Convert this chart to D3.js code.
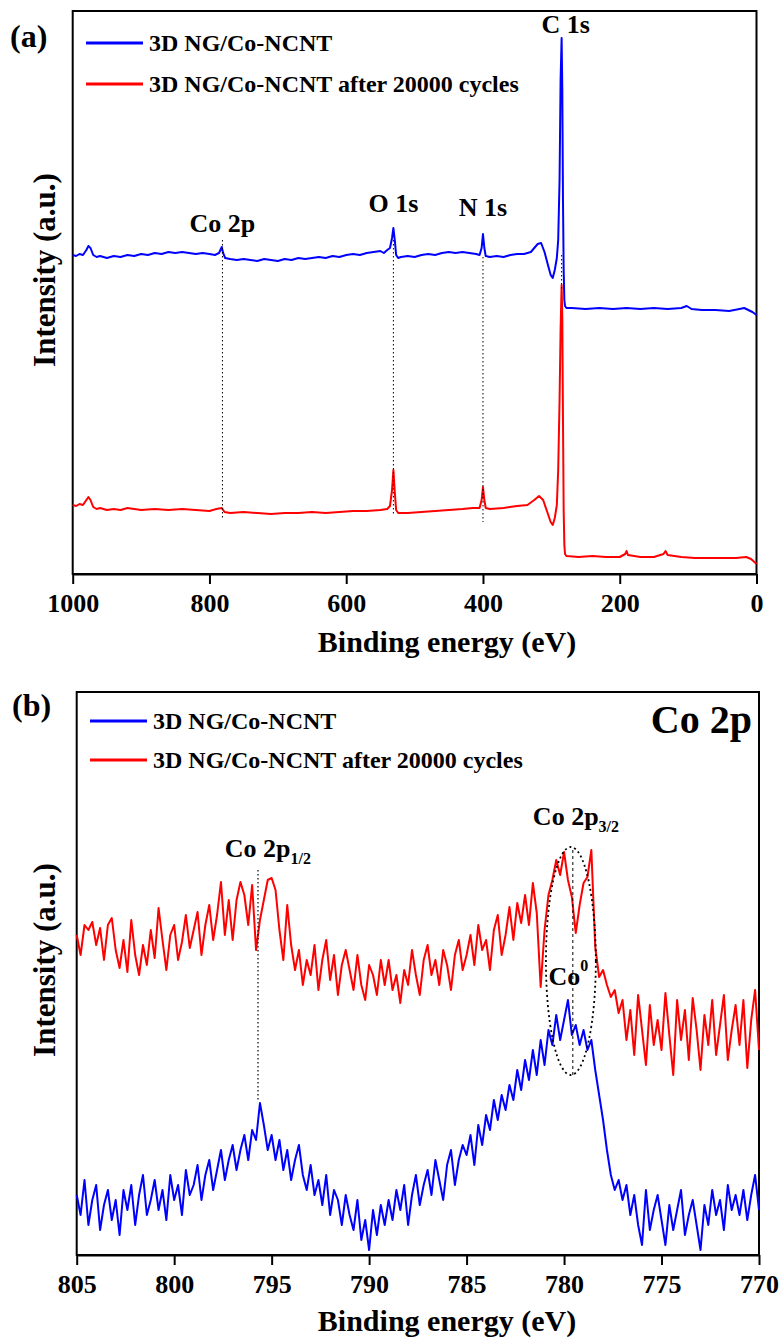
<!DOCTYPE html>
<html><head><meta charset="utf-8">
<script src="https://cdn.jsdelivr.net/npm/d3@7"></script>
<style>
body{margin:0;background:#fff}
svg{display:block}
text{font-family:"Liberation Serif","Times New Roman",serif;font-weight:bold;fill:#000}
</style>
</head><body>
<svg id="chart" width="783" height="1344"></svg>
<script>
// ---------------- DATA ----------------
const seriesNames = ["3D NG/Co-NCNT", "3D NG/Co-NCNT after 20000 cycles"];
const seriesColors = ["#0000ff", "#ff0000"];

// Panel (a): XPS survey, binding energy (eV) and intensity (a.u.)
const surveyEnergyBlue = [1000,995,990,985,980,977,974,970,965,960,950,940,930,920,910,900,890,880,870,860,850,840,830,820,810,800,792,786,782,780,777,770,760,750,740,730,720,710,700,690,680,670,660,650,640,630,620,610,600,590,580,570,560,550,545,540,536,533,531,529,527,524,520,510,500,490,480,470,460,450,440,430,420,410,405,402,400,398,396,390,380,370,360,350,340,330,325,320,315,310,305,301,298,295,292,290,288,286.5,285,284,283,282,281,280,278,270,250,230,210,190,170,150,130,110,102,95,80,60,40,25,18,12,6,0];
const surveyIntensityBlue = [345,344,346,345,350,354,352,345,343,344,342,344,343,345,344,346,345,347,346,348,347,348,347,346,347,346,345,347,353,347,342,341,340,341,340,339,341,340,339,341,340,342,341,342,343,342,344,343,345,346,345,347,348,349,347,350,352,362,372,360,345,342,343,344,343,345,346,345,347,348,347,348,347,346,345,352,366,352,344,343,344,343,345,346,346,348,352,356,357,348,335,325,322,330,342,360,420,520,562,510,400,330,300,294,292,292,291,292,291,292,291,292,291,292,294,291,290,290,289,291,292,290,288,285];

const surveyEnergyRed = [1000,995,990,985,980,977,974,970,965,960,950,940,930,920,910,900,880,860,840,820,800,790,782,778,770,750,730,710,690,670,650,630,610,590,570,550,540,536,533,531,529,527,524,510,490,470,450,430,415,405,402,400,398,396,390,370,350,335,325,318,312,306,301,298,295,292,290,288,286.5,285,284,283,282,281,280,278,260,240,220,200,192,190,188,170,150,136,133,130,110,90,70,50,30,15,8,3,0];
const surveyIntensityRed = [95,94,96,95,100,103,100,93,91,92,90,91,90,92,91,90,91,90,91,90,89,91,92,88,87,88,87,86,87,87,88,87,88,89,89,90,91,94,110,130,108,90,87,87,88,89,90,91,92,92,100,113,100,92,91,92,94,95,100,104,100,88,78,75,82,95,130,200,270,315,280,180,90,55,46,44,43,44,43,43,46,49,45,43,43,46,49,45,43,42,42,42,42,43,41,38,36];

const surveyTicks = [1000, 800, 600, 400, 200, 0];
const surveyPeakNames = ["Co 2p", "O 1s", "N 1s", "C 1s"];
const surveyPeakEnergies = [781, 531, 400, 285];

// Panel (b): Co 2p high-resolution, 805 -> 770 eV in 0.2 eV steps
const coStart = 805, coStep = 0.2, coCount = 176;
const coIntensityBlue = [
 60,40,75,30,55,70,25,50,65,35,
 55,20,65,45,70,30,60,80,40,55,
 75,45,65,35,80,55,70,40,85,60,
 70,90,55,80,95,65,85,105,75,95,
 110,85,105,120,95,125,115,152,130,105,
 120,95,115,85,105,75,95,110,80,65,
 90,60,75,50,80,40,65,55,30,60,
 40,25,55,15,35,5,45,20,50,30,
 55,35,65,45,70,30,60,80,50,70,
 85,60,95,75,55,90,105,70,95,110,
 100,120,90,130,110,140,125,155,135,160,
 145,170,155,185,165,195,175,205,180,215,
 190,225,210,240,215,235,255,220,230,210,
 225,205,215,185,160,135,105,80,65,75,
 55,70,40,60,30,10,65,25,45,60,
 35,10,50,25,45,65,20,40,55,30,
 5,50,30,65,40,55,25,70,45,60,
 40,65,35,60,80,45];
const coIntensityRed = [
 320,300,330,325,333,310,327,295,330,337,
 305,287,315,283,335,300,280,310,290,325,
 297,347,315,285,320,330,295,313,340,307,
 325,343,300,330,350,315,340,373,320,355,
 315,355,373,360,330,370,305,335,355,375,
 377,365,325,295,350,310,285,305,270,295,
 280,310,265,295,315,275,300,260,290,305,
 285,265,300,270,255,290,280,260,295,270,
 295,265,280,252,285,270,305,280,260,295,
 310,280,295,270,305,290,265,300,315,285,
 300,320,290,330,305,315,285,325,340,300,
 320,348,315,352,332,360,330,372,342,268,
 325,360,375,395,380,403,375,358,322,350,
 372,378,405,308,278,285,270,258,265,242,
 255,215,245,200,260,225,190,250,210,235,
 205,262,220,180,255,215,245,195,257,225,
 185,240,210,255,200,230,260,195,225,250,
 210,255,187,235,265,205];
const coTicks = [805, 800, 795, 790, 785, 780, 775, 770];

// ---------------- DRAW ----------------
const svg = d3.select("#chart");
const font = "'Liberation Serif','Times New Roman',serif";

function panel(cfg) {
  const x = d3.scaleLinear().domain(cfg.xDomain).range([cfg.left, cfg.right]);
  const y = d3.scaleLinear().domain(cfg.yDomain).range([cfg.bottom, cfg.top]);
  const g = svg.append("g");
  const ax = g.append("g").attr("transform", `translate(0,${cfg.bottom})`)
    .call(d3.axisBottom(x).tickValues(cfg.ticks).tickSize(10).tickSizeOuter(0).tickPadding(10).tickFormat(d3.format("d")));
  ax.selectAll("path,line").attr("stroke", "#000").attr("stroke-width", 2);
  ax.selectAll("text").attr("font-size", 26).attr("font-family", font).attr("font-weight", "bold").attr("fill", "#000");
  g.append("rect").attr("x", cfg.left).attr("y", cfg.top)
    .attr("width", cfg.right - cfg.left).attr("height", cfg.bottom - cfg.top)
    .attr("fill", "none").attr("stroke", "#000").attr("stroke-width", 2);
  const line = d3.line().x(d => x(d[0])).y(d => y(d[1]));
  cfg.series.forEach((s, i) => {
    g.append("path").datum(s).attr("d", line).attr("fill", "none")
      .attr("stroke", seriesColors[i]).attr("stroke-width", 2).attr("stroke-linejoin", "round");
  });
  seriesNames.forEach((n, i) => {
    const ly = cfg.legendY[i];
    g.append("line").attr("x1", cfg.legendX).attr("x2", cfg.legendX + 57).attr("y1", ly).attr("y2", ly)
      .attr("stroke", seriesColors[i]).attr("stroke-width", 3);
    g.append("text").attr("x", cfg.legendX + 63).attr("y", ly).attr("dy", "0.35em")
      .attr("font-size", 24).text(n);
  });
  g.append("text").attr("x", 447).attr("y", cfg.xTitleY).attr("text-anchor", "middle")
    .attr("font-size", 30).text("Binding energy (eV)");
  g.append("text").attr("transform", `translate(${cfg.yTitleX},${cfg.yTitleY}) rotate(-90)`)
    .attr("text-anchor", "middle").attr("font-size", 31).text("Intensity (a.u.)");
  g.append("text").attr("x", cfg.tagX).attr("y", cfg.tagY).attr("font-size", 32).text(cfg.tag);
  return {x, y, g};
}

// Panel (a)
const A = panel({
  left: 72.7, right: 756.5, top: 11, bottom: 574,
  xDomain: [1000, 0], yDomain: [26, 589], ticks: surveyTicks,
  series: [surveyEnergyBlue.map((e, i) => [e, surveyIntensityBlue[i]]),
           surveyEnergyRed.map((e, i) => [e, surveyIntensityRed[i]])],
  legendX: 86, legendY: [43, 84],
  xTitleY: 652, yTitleX: 55, yTitleY: 270, tag: "(a)", tagX: 10, tagY: 47
});
const guideTop = [360, 360, 343, 345], guideBottom = [80, 85, 78, 310];
const labelLevel = [368, 388, 384, 567], labelShift = [0, 0, 0, 6];
surveyPeakEnergies.forEach((e, i) => {
  A.g.append("line").attr("x1", A.x(e)).attr("x2", A.x(e)).attr("y1", A.y(guideTop[i])).attr("y2", A.y(guideBottom[i]))
    .attr("stroke", "#000").attr("stroke-width", 1).attr("stroke-dasharray", "1.5,2.5");
  A.g.append("text").attr("x", A.x(e - labelShift[i])).attr("y", A.y(labelLevel[i])).attr("text-anchor", "middle")
    .attr("font-size", 26).text(surveyPeakNames[i]);
});

// Panel (b)
const coEnergy = d3.range(coCount).map(i => +(coStart - i * coStep).toFixed(1));
const B = panel({
  left: 76.7, right: 759, top: 692, bottom: 1255,
  xDomain: [805, 770], yDomain: [0, 563], ticks: coTicks,
  series: [coEnergy.map((e, i) => [e, coIntensityBlue[i]]),
           coEnergy.map((e, i) => [e, coIntensityRed[i]])],
  legendX: 90, legendY: [721, 760],
  xTitleY: 1331, yTitleX: 55, yTitleY: 960, tag: "(b)", tagX: 12, tagY: 716
});
B.g.append("text").attr("x", 752).attr("y", 733).attr("text-anchor", "end").attr("font-size", 40).text("Co 2p");
const t1 = B.g.append("text").attr("x", B.x(797.4)).attr("y", B.y(398)).attr("font-size", 26);
t1.append("tspan").text("Co 2p");
t1.append("tspan").attr("font-size", 16).attr("dy", 7).text("1/2");
B.g.append("line").attr("x1", B.x(795.7)).attr("x2", B.x(795.7)).attr("y1", B.y(385)).attr("y2", B.y(155))
  .attr("stroke", "#000").attr("stroke-width", 1.2).attr("stroke-dasharray", "1.5,2.5");
const t2 = B.g.append("text").attr("x", B.x(781.6)).attr("y", B.y(430)).attr("font-size", 26);
t2.append("tspan").text("Co 2p");
t2.append("tspan").attr("font-size", 16).attr("dy", 7).text("3/2");
const ec = 779.65;
B.g.append("ellipse").attr("cx", B.x(ec)).attr("cy", B.y(294))
  .attr("rx", B.x(ec - 1.28) - B.x(ec)).attr("ry", B.y(180) - B.y(294))
  .attr("fill", "none").attr("stroke", "#000").attr("stroke-width", 1.8).attr("stroke-dasharray", "2,3");
B.g.append("line").attr("x1", B.x(779.55)).attr("x2", B.x(779.55)).attr("y1", B.y(405)).attr("y2", B.y(180))
  .attr("stroke", "#000").attr("stroke-width", 1).attr("stroke-dasharray", "3,3");
const t3 = B.g.append("text").attr("x", B.x(780.8)).attr("y", B.y(270)).attr("font-size", 26);
t3.append("tspan").text("Co");
t3.append("tspan").attr("font-size", 16).attr("dy", -14).text("0");
</script>
</body></html>
